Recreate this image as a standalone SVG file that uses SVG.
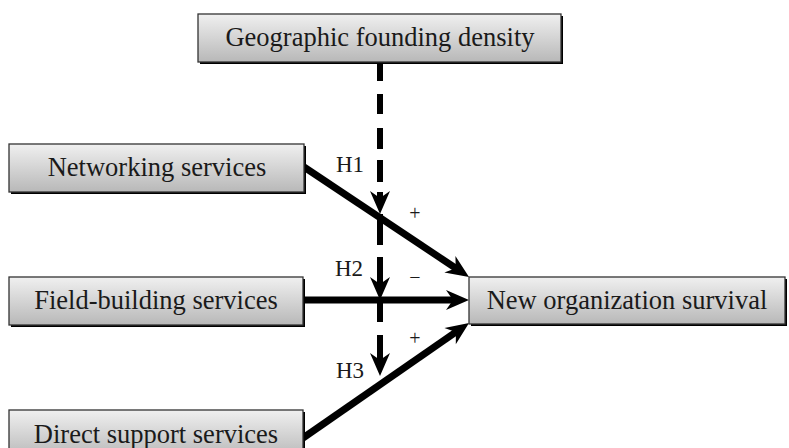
<svg xmlns="http://www.w3.org/2000/svg" width="789" height="448" viewBox="0 0 789 448">
  <defs>
    <linearGradient id="boxFill" x1="0" y1="0" x2="0" y2="1">
      <stop offset="0" stop-color="#f0f0f0"/>
      <stop offset="1" stop-color="#b8b8b8"/>
    </linearGradient>
    <!-- notched arrowhead; tip sits 10px beyond the path end -->
    <marker id="head" markerUnits="userSpaceOnUse" viewBox="-22 -11 32 22" refX="0" refY="0" markerWidth="32" markerHeight="22" orient="auto" overflow="visible">
      <path d="M10,0 L-13,-10 L-6,0 L-13,10 Z" fill="#000"/>
    </marker>
    <style>
      .shadow { fill: #000; }
      .box { fill: url(#boxFill); stroke: #333; stroke-width: 1.3; }
      .label { font-family: "Liberation Serif", "Times New Roman", serif; font-size: 26.5px; fill: #1a1a1a; text-anchor: middle; }
      .hyp { font-family: "Liberation Serif", "Times New Roman", serif; font-size: 23px; fill: #1a1a1a; }
      .sign { font-family: "Liberation Serif", "Times New Roman", serif; font-size: 20px; fill: #1a1a1a; text-anchor: middle; }
      .solid { stroke: #000; stroke-width: 7; fill: none; }
      .dash { stroke: #000; stroke-width: 6; fill: none; }
    </style>
  </defs>

  <rect width="789" height="448" fill="#fff"/>

  <!-- connectors -->
  <g id="connectors">
    <line class="solid" x1="304" y1="167" x2="460.7" y2="271.5" marker-end="url(#head)"/>
    <line class="solid" x1="303" y1="300" x2="459" y2="300" marker-end="url(#head)"/>
    <line class="solid" x1="303" y1="438" x2="460.8" y2="328.7" marker-end="url(#head)"/>

    <!-- moderating effect of founding density, drawn as separate dashes -->
    <line class="dash" x1="380" y1="62" x2="380" y2="81"/>
    <line class="dash" x1="380" y1="94" x2="380" y2="114"/>
    <line class="dash" x1="380" y1="128" x2="380" y2="149"/>
    <line class="dash" x1="380" y1="160" x2="380" y2="182"/>
    <line class="dash" x1="380" y1="192" x2="380" y2="204" marker-end="url(#head)"/>
    <line class="dash" x1="380" y1="214" x2="380" y2="245"/>
    <line class="dash" x1="380" y1="257" x2="380" y2="290" marker-end="url(#head)"/>
    <line class="dash" x1="380" y1="300" x2="380" y2="322"/>
    <line class="dash" x1="380" y1="335" x2="380" y2="366" marker-end="url(#head)"/>

    <text class="hyp" x="336" y="172">H1</text>
    <text class="hyp" x="335" y="276">H2</text>
    <text class="hyp" x="336" y="378">H3</text>
    <text class="sign" x="415" y="220">+</text>
    <text class="sign" x="415" y="284">−</text>
    <text class="sign" x="415" y="345">+</text>
  </g>

  <g id="density">
    <rect class="shadow" x="200" y="16" width="363" height="48"/>
    <rect class="box" x="198" y="14" width="363" height="48"/>
    <text class="label" x="380" y="46">Geographic founding density</text>
  </g>

  <g id="networking">
    <rect class="shadow" x="11" y="146" width="295" height="48"/>
    <rect class="box" x="9" y="144" width="295" height="48"/>
    <text class="label" x="157" y="176">Networking services</text>
  </g>

  <g id="field-building">
    <rect class="shadow" x="11" y="279" width="294" height="48"/>
    <rect class="box" x="9" y="277" width="294" height="48"/>
    <text class="label" x="156" y="309">Field-building services</text>
  </g>

  <g id="direct-support">
    <rect class="shadow" x="11" y="412" width="294" height="48"/>
    <rect class="box" x="9" y="410" width="294" height="48"/>
    <text class="label" x="156" y="443">Direct support services</text>
  </g>

  <g id="survival">
    <rect class="shadow" x="471" y="279" width="316" height="47"/>
    <rect class="box" x="469" y="277" width="316" height="47"/>
    <text class="label" x="627" y="309">New organization survival</text>
  </g>
</svg>
